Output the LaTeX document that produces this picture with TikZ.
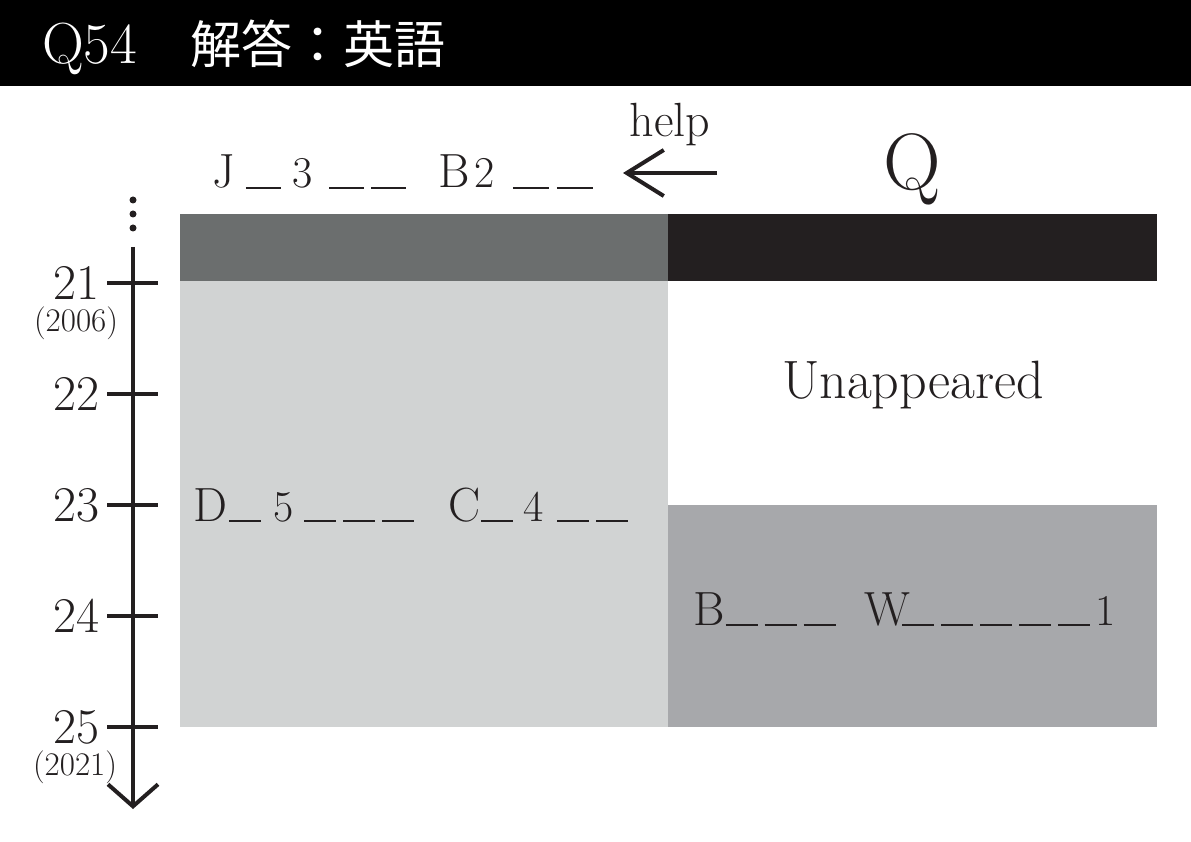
\documentclass[tikz,border=0pt]{standalone}
\usepackage{fontspec}
\newfontfamily\jpfont{Noto Sans CJK JP}
\usetikzlibrary{arrows.meta}

\definecolor{ink}{HTML}{231F20}
\definecolor{topband}{HTML}{6B6E6E}
\definecolor{paleband}{HTML}{D1D3D3}
\definecolor{midband}{HTML}{A7A8AB}

\newcommand{\blank}[1][32pt]{\rule[-1.2pt]{#1}{2.2pt}}
\newcommand{\bgap}{\hspace{7pt}}
\newcommand{\numsz}{\fontsize{44}{46}\selectfont}

\tikzset{
  axisline/.style={ink, line width=4pt},
  word/.style={anchor=base west, inner sep=0pt, text=ink, font=\fontsize{48}{52}\selectfont},
  yearlbl/.style={anchor=base east, inner sep=0pt, text=ink, font=\fontsize{50}{52}\selectfont},
  eralbl/.style={anchor=base, inner sep=0pt, text=ink, font=\fontsize{33}{35}\selectfont}
}

\begin{document}
\begin{tikzpicture}[x=1pt,y=-1pt]

    \useasboundingbox (0,0) rectangle (1191,842);

    % header
    \fill[black] (0,0) rectangle (1191,86);
    \node[anchor=base west, inner sep=0pt, text=white, font=\fontsize{58}{60}\selectfont] (qnum) at (42,64) {Q54};
    \node[anchor=base west, inner sep=0pt, text=white, font=\jpfont\fontsize{51}{56}\selectfont] (title) at (190,64) {解答：英語};

    % bands
    \fill[topband] (180,214) rectangle (668,281);
    \fill[ink] (668,214) rectangle (1157,281);
    \fill[paleband] (180,281) rectangle (668,727);
    \fill[midband] (668,505) rectangle (1157,727);

    % time axis
    \coordinate (axtop) at (133,247);
    \coordinate (axbot) at (133,809);
    \draw[axisline, -{Straight Barb[length=22pt,width=50pt]}] (axtop) -- (axbot);
    \foreach \k in {200,214,228} \fill[ink] (133,\k) circle (3.5);
    \foreach \y/\n in {283/21,394/22,505/23,616/24,727/25} {
        \draw[axisline] (107,\y) -- (158,\y);
        \node[yearlbl] (year\n) at (100,\y+16) {\n};
    }
    \node[eralbl] (start) at (76,331) {(2006)};
    \node[eralbl] (end) at (75,775) {(2021)};

    % top labels
    \node[word] (jword) at (212,188) {J\hspace{11pt}\blank[35pt]\hspace{12pt}{\numsz 3}\hspace{16pt}\blank[35pt]\bgap\blank[35pt]};
    \node[word] (bword) at (438,188) {B\hspace{5pt}{\numsz 2}\hspace{18pt}\blank[36pt]\hspace{8pt}\blank[36pt]};
    \node[anchor=base, inner sep=0pt, text=ink, font=\fontsize{48}{52}\selectfont] (help) at (670,137) {help};
    \coordinate (helpR) at (717,173);
    \coordinate (helpL) at (623,173);
    \draw[axisline, -{Straight Barb[length=37pt,width=46pt]}] (helpR) -- (helpL);
    \node[anchor=base, inner sep=0pt, text=ink, font=\fontsize{80}{84}\selectfont] (qmark) at (912,190) {Q};

    % band texts
    \node[anchor=center, inner sep=0pt, text=ink, font=\fontsize{54}{58}\selectfont] (unap) at (913,385) {Unappeared};
    \node[word] (dword) at (193,521) {D\hspace{2pt}\blank\hspace{12pt}{\numsz 5}\hspace{11pt}\blank\bgap\blank\bgap\blank};
    \node[word] (cword) at (448,521) {C\hspace{1pt}\blank\hspace{10pt}{\numsz 4}\hspace{14pt}\blank\bgap\blank};
    \node[word] (bword2) at (693,625) {B\hspace{1pt}\blank\bgap\blank\bgap\blank};
    \node[word] (wword) at (864,625) {W\hspace{-8pt}\blank\bgap\blank\bgap\blank\bgap\blank\bgap\blank\hspace{5pt}{\numsz 1}};

\end{tikzpicture}
\end{document}
